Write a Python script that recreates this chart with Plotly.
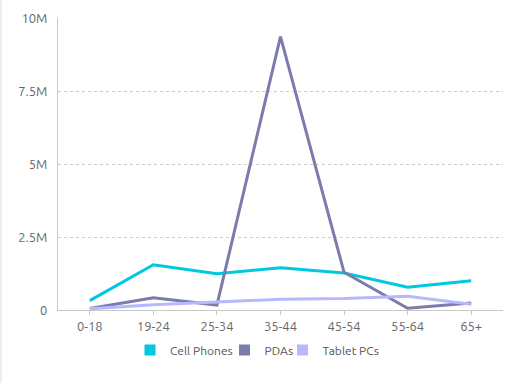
import plotly.graph_objects as go

categories = ["0-18", "19-24", "25-34", "35-44", "45-54", "55-64", "65+"]
cell_phones = [320000, 1550000, 1240000, 1450000, 1270000, 780000, 1000000]
pdas = [50000, 420000, 170000, 9360000, 1290000, 60000, 240000]
tablet_pcs = [40000, 180000, 270000, 370000, 390000, 470000, 200000]

y_tickvals = [0, 2500000, 5000000, 7500000, 10000000]
y_ticktext = ["0", "2.5M", "5M", "7.5M", "10M"]

series = [
    ("Cell Phones", cell_phones, "#00C8E0", "legend"),
    ("PDAs", pdas, "#7B7BAD", "legend2"),
    ("Tablet PCs", tablet_pcs, "#B8B8FF", "legend3"),
]

FONT = "Ubuntu, 'Open Sans', 'Noto Sans', sans-serif"

fig = go.Figure()
for name, vals, color, lg in series:
    fig.add_trace(go.Scatter(
        x=categories, y=vals, mode="lines", name=name,
        line=dict(color=color, width=3), showlegend=False,
    ))
for name, vals, color, lg in series:
    fig.add_trace(go.Scatter(
        x=[None], y=[None], mode="markers", name=name,
        marker=dict(symbol="square", size=11, color=color),
        showlegend=True, legend=lg,
    ))

L, W = 58, 445
def px(x):
    return (x - L) / W

legend_common = dict(
    orientation="h", yanchor="middle", y=-0.137, xanchor="left",
    font=dict(size=12, color="#555555"), itemwidth=30,
    bgcolor="rgba(0,0,0,0)", borderwidth=0,
)

fig.update_layout(
    width=527, height=383,
    margin=dict(l=58, r=24, t=18, b=73, autoexpand=False),
    paper_bgcolor="white", plot_bgcolor="white",
    font=dict(family=FONT, size=12, color="#666666"),
    showlegend=True,
    legend=dict(legend_common, x=px(130)),
    legend2=dict(legend_common, x=px(224.5)),
    legend3=dict(legend_common, x=px(282.5)),
    xaxis=dict(
        type="category", showgrid=False, showline=True, linecolor="#c8c8c8",
        linewidth=1, ticks="outside", ticklen=4, tickcolor="#c8c8c8",
        tickfont=dict(size=13, color="#666666"), zeroline=False,
        range=[-0.5, 6.5],
    ),
    yaxis=dict(
        range=[0, 10000000], tickvals=y_tickvals, ticktext=y_ticktext,
        showgrid=True, gridcolor="#cccccc", griddash="dot", gridwidth=1,
        showline=True, linecolor="#c8c8c8", linewidth=1, zeroline=False,
        ticks="", tickfont=dict(size=13, color="#666666"), ticklabelstandoff=7,
    ),
    shapes=[dict(type="line", xref="paper", yref="paper", x0=px(1), x1=px(1),
                 y0=(310 - 383) / 292, y1=310 / 292,
                 line=dict(color="#eeeeee", width=2), layer="below")],
)

fig.write_html(
    "out.html",
    config={"displayModeBar": False},
    post_script="document.body.style.margin='0';document.body.style.overflow='hidden';",
)
